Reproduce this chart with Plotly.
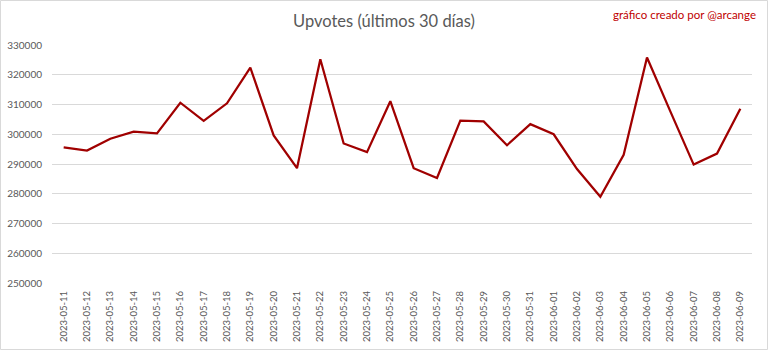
import plotly.graph_objects as go

dates = ["2023-05-11","2023-05-12","2023-05-13","2023-05-14","2023-05-15","2023-05-16",
         "2023-05-17","2023-05-18","2023-05-19","2023-05-20","2023-05-21","2023-05-22",
         "2023-05-23","2023-05-24","2023-05-25","2023-05-26","2023-05-27","2023-05-28",
         "2023-05-29","2023-05-30","2023-05-31","2023-06-01","2023-06-02","2023-06-03",
         "2023-06-04","2023-06-05","2023-06-06","2023-06-07","2023-06-08","2023-06-09"]
upvotes = [295600, 294500, 298500, 300900, 300300, 310600,
           304500, 310400, 322400, 299600, 288600, 325200,
           296900, 294000, 311100, 288600, 285300, 304600,
           304300, 296300, 303400, 300000, 288300, 279000,
           293100, 325800, 307700, 289800, 293500, 308600]
y_ticks = [250000, 260000, 270000, 280000, 290000, 300000, 310000, 320000, 330000]

W, H = 768, 350
L, R, T, B = 52, 16, 45, 67
pw, ph = W - L - R, H - T - B

fig = go.Figure()
fig.add_trace(go.Scatter(x=dates, y=upvotes, mode="lines",
                         line=dict(color="#a00000", width=2.25), hoverinfo="x+y"))

fig.update_layout(
    width=W, height=H,
    margin=dict(l=L, r=R, t=T, b=B, autoexpand=False),
    paper_bgcolor="white", plot_bgcolor="white",
    font=dict(family="Lato, Carlito, sans-serif", color="#595959"),
    showlegend=False,
    title=dict(text="Upvotes (últimos 30 días)", x=0.5, xanchor="center",
               y=1 - 21 / H, yanchor="middle",
               font=dict(size=16.5, color="#595959")),
    xaxis=dict(type="category", tickangle=-90, showgrid=False, showline=False,
               range=[-0.5, len(dates) - 0.5], automargin=False,
               ticks="", ticklabelstandoff=5,
               tickfont=dict(size=9.5, color="#595959"), fixedrange=True),
    yaxis=dict(range=[250000, 330000], tickvals=y_ticks, automargin=False,
               ticktext=[str(v) for v in y_ticks],
               showgrid=True, gridcolor="#d9d9d9", gridwidth=1, zeroline=False,
               showline=False, ticks="", ticklabelstandoff=9,
               tickfont=dict(size=10, color="#595959")),
    annotations=[dict(text="gráfico creado por @arcange", xref="paper", yref="paper",
                      x=(758 - L) / pw, y=(H - B - 14) / ph, xanchor="right",
                      yanchor="middle", showarrow=False,
                      font=dict(size=11.5, color="#c00000"))],
    shapes=[dict(type="rect", xref="paper", yref="paper",
                 x0=(0.5 - L) / pw, x1=(W - 0.5 - L) / pw,
                 y0=(H - B - (H - 0.5)) / ph, y1=(H - B - 0.5) / ph,
                 line=dict(color="#d9d9d9", width=1), layer="below")],
)

fig.write_html("out.html")
